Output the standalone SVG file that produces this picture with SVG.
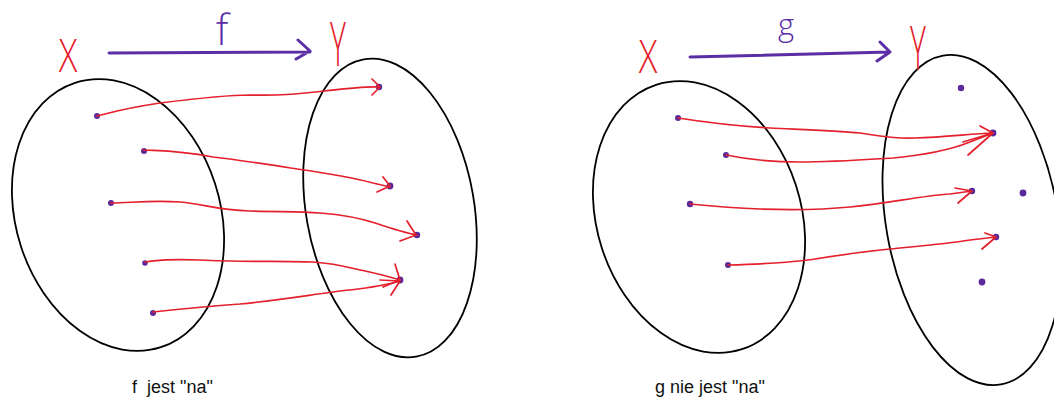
<svg xmlns="http://www.w3.org/2000/svg" width="1054" height="401" viewBox="0 0 1054 401">
<style>
.set{fill:none;stroke:#000;stroke-width:1.8}
.dot{fill:#5a2a9c}
.map{fill:none;stroke:#e3202c;stroke-width:1.7;stroke-linecap:round;stroke-linejoin:round}
.fn{fill:none;stroke:#5b2ea6;stroke-width:3;stroke-linecap:round;stroke-linejoin:round}
.hand{font-family:"Open Sans","Liberation Sans",sans-serif;font-weight:300}
.red{fill:#e3202c}
.pur{fill:#5b2ea6}
.cap{font-family:"Liberation Sans",Arial,sans-serif;font-size:18px;fill:#111;white-space:pre}
</style>
<rect width="1054" height="401" fill="#fff"/>

<!-- Left diagram: f -->
<g id="f-domain-X">
  <ellipse class="set" cx="118" cy="215" rx="102" ry="139" transform="rotate(-18 118 215)"/>
  <text class="hand red" x="0" y="0" font-size="46" text-anchor="middle" transform="translate(68,72) scale(0.75,1)">X</text>
  <circle class="dot" cx="97" cy="116" r="3"/>
  <circle class="dot" cx="144" cy="151" r="3"/>
  <circle class="dot" cx="111" cy="203" r="3"/>
  <circle class="dot" cx="145" cy="263" r="2.8"/>
  <circle class="dot" cx="153" cy="313" r="3"/>
</g>
<g id="f-codomain-Y">
  <ellipse class="set" cx="390" cy="208" rx="84" ry="151" transform="rotate(-10 390 208)"/>
  <text class="hand red" x="0" y="0" font-size="60" text-anchor="middle" transform="translate(338,66) scale(0.5,1)">Y</text>
  <circle class="dot" cx="379" cy="87" r="3.2"/>
  <circle class="dot" cx="390" cy="186" r="3.4"/>
  <circle class="dot" cx="417" cy="235" r="3.2"/>
  <circle class="dot" cx="400" cy="280" r="3.4"/>
</g>
<g id="f-label">
  <text class="hand pur" x="222" y="45" font-size="42" text-anchor="middle">f</text>
</g>
<g id="f-caption">
  <text class="cap" x="132" y="393">f  jest "na"</text>
</g>

<!-- Right diagram: g -->
<g id="g-domain-X">
  <ellipse class="set" cx="699" cy="217" rx="102" ry="139" transform="rotate(-18 699 217)"/>
  <text class="hand red" x="0" y="0" font-size="46" text-anchor="middle" transform="translate(648,73) scale(0.75,1)">X</text>
  <circle class="dot" cx="678" cy="118" r="3"/>
  <circle class="dot" cx="726" cy="155" r="3"/>
  <circle class="dot" cx="690" cy="204" r="3.2"/>
  <circle class="dot" cx="728" cy="265" r="3"/>
</g>
<g id="g-codomain-Y">
  <ellipse class="set" cx="972" cy="220" rx="86" ry="167" transform="rotate(-10 972 220)"/>
  <text class="hand red" x="0" y="0" font-size="60" text-anchor="middle" transform="translate(918,70) scale(0.5,1)">Y</text>
  <circle class="dot" cx="961" cy="88" r="3.2"/>
  <circle class="dot" cx="993" cy="133" r="3.4"/>
  <circle class="dot" cx="972" cy="191" r="3.2"/>
  <circle class="dot" cx="1023" cy="193" r="3.4"/>
  <circle class="dot" cx="996" cy="237" r="3.2"/>
  <circle class="dot" cx="982" cy="282" r="3.4"/>
</g>
<g id="g-label">
  <text class="hand pur" x="786" y="36" font-size="31" text-anchor="middle">g</text>
</g>
<g id="g-caption">
  <text class="cap" x="655" y="393">g nie jest "na"</text>
</g>

<g id="connectors">
  <!-- function arrows -->
  <path class="fn" d="M109,53 L310,52 M298,40 L310,51 L296,59"/>
  <path class="fn" d="M690,57 L890,52 M880,42 L890,52 L877,61"/>

  <!-- f mappings -->
  <path class="map" d="M97,116 C110,113 120,109 160,103 C200,98 225,95 250,95 C280,96 300,94 325,91 C350,88 365,86 380,87 M372,79 L380,87 L372,95"/>
  <path class="map" d="M143,150 C160,151 175,150 213,157 C240,160 265,164 297,169 C325,173 355,178 373,183 L390,187 M383,177 L390,186 L377,192"/>
  <path class="map" d="M111,203 C130,203 150,200 180,202 C205,204 215,210 250,211 C280,212 300,211 320,213 C345,215 360,218 375,223 C390,228 405,233 417,235 M407,221 L416,235 L400,241"/>
  <path class="map" d="M145,262 C160,260 170,259 200,260 C240,262 280,261 313,262 C340,264 350,268 365,271 C380,274 390,277 400,280 M395,264 L400,280 L383,287"/>
  <path class="map" d="M153,312 C180,309 200,307 240,304 C290,299 320,293 350,290 C375,287 390,284 400,281 M380,280 L400,281 L391,295"/>

  <!-- g mappings -->
  <path class="map" d="M678,118 C710,123 735,126 770,128 C810,130 835,131 860,133 C880,136 895,139 915,138 C945,137 970,134 993,133 M980,126 L993,133 L963,142"/>
  <path class="map" d="M726,155 C750,160 770,162 800,162 C830,162 860,160 893,158 C925,155 950,150 970,142 L993,133 M993,133 L968,155"/>
  <path class="map" d="M690,204 C710,206 730,208 760,209 C790,210 820,210 850,207 C890,203 920,196 950,194 L972,191 M955,188 L972,191 L958,203"/>
  <path class="map" d="M728,265 C760,264 790,263 815,259 C840,255 860,252 890,249 C920,246 945,244 970,240 L996,237 M985,233 L996,237 L982,249"/>
</g>
</svg>
